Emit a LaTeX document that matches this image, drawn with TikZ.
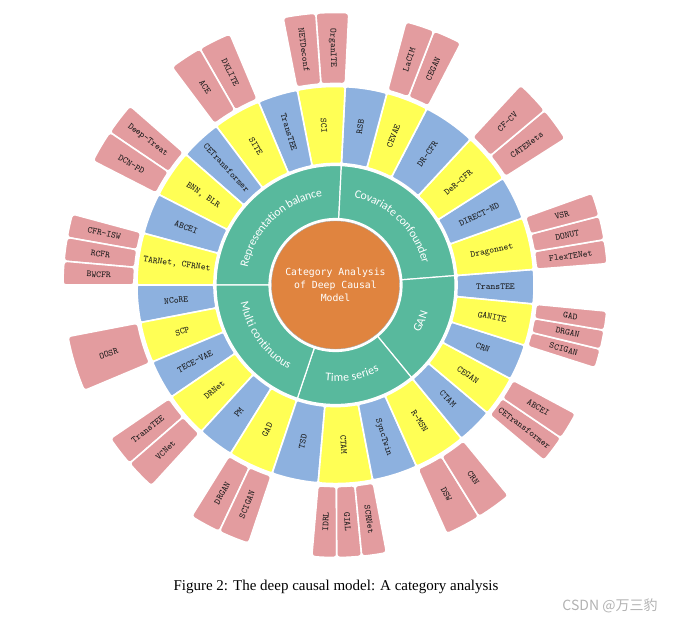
\documentclass[tikz,border=0pt]{standalone}
\usepackage{fontspec}
\setmainfont{Liberation Serif}
\newfontfamily\ringfont{Carlito}
\newfontfamily\hubfont{DejaVu Sans Mono}
\newfontfamily\cjkfont{Noto Sans CJK SC}
\usepackage{xcolor}
\usepackage{tikz}
\usetikzlibrary{decorations.text}

\definecolor{segblue}{HTML}{8DB1DF}
\definecolor{segyellow}{HTML}{FFFF55}
\definecolor{leafpink}{HTML}{E39C9F}
\definecolor{coregreen}{HTML}{58B99D}
\definecolor{coreorange}{HTML}{E0843F}

% one piece of a ring: start angle, end angle, inner radius, outer radius, style
\newcommand{\ringpart}[5]{%
  \path[#5] (#1:#3) arc[start angle=#1, end angle=#2, radius=#3]
    -- (#2:#4) arc[start angle=#2, end angle=#1, radius=#4] -- cycle;}

\begin{document}
\begin{tikzpicture}[
  every node/.style={inner sep=0pt},
  blu/.style={fill=segblue, draw=white, line width=1.6pt, rounded corners=2pt},
  yel/.style={fill=segyellow, draw=white, line width=1.6pt, rounded corners=2pt},
  leaf/.style={fill=leafpink, draw=white, line width=1.6pt, rounded corners=3pt},
  grp/.style={fill=coregreen, draw=white, line width=1.2pt},
  lbl/.style={font=\ttfamily\fontsize{9.2}{10}\selectfont, text=black!90},
  hub/.style={circle, fill=coreorange, draw=gray!70, thin, minimum size=128pt,
    align=center, text=white, font=\hubfont\fontsize{9.8}{13}\selectfont},
  grptext/.style={decorate, decoration={text along path, text align=center,
    raise=-3.5pt, text color=white, text={|\ringfont\fontsize{11.8}{13}\selectfont|#1}}},
]
  \useasboundingbox (-335.5pt,-339pt) rectangle (338.5pt,285pt);

  % inner ring of categories
  \ringpart{87.2}{180}{66.5pt}{119.5pt}{grp}
  \ringpart{4.5}{87.2}{66.5pt}{119.5pt}{grp}
  \ringpart{-50.6}{4.5}{66.5pt}{119.5pt}{grp}
  \ringpart{251.4}{309.4}{66.5pt}{119.5pt}{grp}
  \ringpart{180}{251.4}{66.5pt}{119.5pt}{grp}

  \path[grptext={Representation balance}] (180:93pt) arc[start angle=180, end angle=87.2, radius=93pt];
  \path[grptext={Covariate confounder}] (87.2:93pt) arc[start angle=87.2, end angle=4.5, radius=93pt];
  \path[grptext={GAN}] (-50.6:93pt) arc[start angle=-50.6, end angle=4.5, radius=93pt];
  \path[grptext={Time series}] (251.4:93pt) arc[start angle=251.4, end angle=309.4, radius=93pt];
  \path[grptext={Multi continuous}] (180:93pt) arc[start angle=180, end angle=251.4, radius=93pt];

  \node[hub] (core) at (0,0) {Category Analysis\\of Deep Causal\\Model};

  % middle ring of models
  \foreach \a/\b/\s/\t [count=\i] in {
    -5.5/4.5/blu/TransTEE, 4.5/19.7/yel/Dragonnet, 19.7/32.5/blu/DIRECT-ND,
    32.5/47.2/yel/DeR-CFR, 47.2/62.6/blu/DR-CFR, 62.6/75/yel/CEVAE,
    75/87.2/blu/RSB, 87.2/101.1/yel/SCI, 101.1/112.8/blu/TransTEE,
    112.8/126.9/yel/SITE, 126.9/138.9/blu/CETransformer, 138.9/152.9/yel/{BNN, BLR},
    152.9/164.9/blu/ABCEI, 164.9/180/yel/{TARNet, CFRNet}, 180/190.9/blu/NCoRE,
    190.9/202.8/yel/SCP, 202.8/214.3/blu/TECE-VAE, 214.3/227.5/yel/DRNet,
    227.5/238.1/blu/PM, 238.1/251.4/yel/GAD, 251.4/265/blu/TSD,
    265/280.8/yel/CTAM, 280.8/294.1/blu/SyncTwin, 294.1/309.4/yel/R-MSN,
    309.4/319.9/blu/CTAM, 319.9/331.8/yel/CEGAN, 331.8/342.3/blu/CRN,
    342.3/354.5/yel/GANITE} {
    \pgfmathsetmacro\m{(\a+\b)/2}
    \pgfmathsetmacro\rot{cos(\m)<0 ? \m+180 : \m}
    \ringpart{\a}{\b}{121.5pt}{198.5pt}{\s}
    \node[lbl, rotate=\rot] (mid\i) at (\m:160pt) {\t};
  }

  % outer ring of variants
  \foreach \a/\b/\t [count=\i] in {
    4.5/9.57/FlexTENet, 9.57/14.63/DONUT, 14.63/19.7/VSR,
    32.5/39.85/CATENets, 39.85/47.2/CF-CV,
    62.6/68.8/CEGAN, 68.8/75/LaCIM,
    87.2/94.15/OrganITE, 94.15/101.1/NETDeconf,
    112.8/119.85/DKLITE, 119.85/126.9/ACE,
    138.9/145.9/Deep-Treat, 145.9/152.9/DCN-PD,
    164.9/169.93/CFR-ISW, 169.93/174.97/RCFR, 174.97/180/BWCFR,
    190.9/202.8/OOSR,
    214.3/220.9/TransTEE, 220.9/227.5/VCNet,
    238.1/244.75/DRGAN, 244.75/251.4/SCIGAN,
    265/270.27/IDRL, 270.27/275.53/GIAL, 275.53/280.8/SCRNet,
    294.1/301.75/DSW, 301.75/309.4/CRN,
    319.9/325.85/CETransformer, 325.85/331.8/ABCEI,
    342.3/346.37/SCIGAN, 346.37/350.43/DRGAN, 350.43/354.5/GAD} {
    \pgfmathsetmacro\m{(\a+\b)/2}
    \pgfmathsetmacro\rot{cos(\m)<0 ? \m+180 : \m}
    \ringpart{\a}{\b}{201.5pt}{272.5pt}{leaf}
    \node[lbl, rotate=\rot] (leaf\i) at (\m:237pt) {\t};
  }

  \node[font=\fontsize{15}{17}\selectfont] (caption) at (0.5pt,-302pt)
    {Figure 2: The deep causal model: A category analysis};
  \node[font=\cjkfont\fontsize{14}{16}\selectfont, text=gray!60] (mark) at (274.5pt,-321pt)
    {CSDN @万三豹};
\end{tikzpicture}
\end{document}
